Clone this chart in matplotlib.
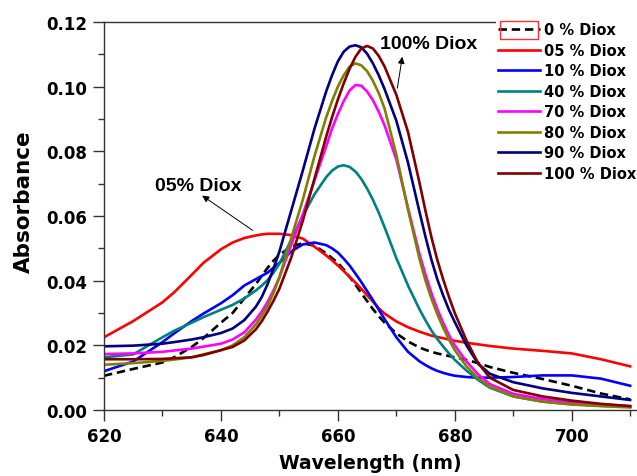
import matplotlib
matplotlib.use("Agg")
import matplotlib.pyplot as plt
from matplotlib.ticker import MultipleLocator, FormatStrFormatter
from matplotlib.patches import Rectangle

plt.rcParams['font.family'] = ['DejaVu Sans']
plt.rcParams['font.weight'] = 'bold'

wavelength = [620, 625, 630, 632, 635, 637, 640, 642, 644, 646, 647, 648, 649, 650, 652, 654,
              656, 658, 659, 660, 661, 662, 663, 664, 665, 666, 667, 668, 670, 672, 674, 675,
              676, 677, 678, 679, 680, 682, 684, 686, 690, 695, 700, 705, 710]

diox_0 = [.0106, .0127, .0147, .0163, .0195, .0222, .0270, .0300, .0345, .0390, .0415, .0440,
          .0462, .0480, .0505, .0516, .0508, .0485, .0470, .0455, .0435, .0412, .0388, .0362,
          .0337, .0312, .0290, .0270, .0237, .0212, .0193, .0186, .0180, .0175, .0171, .0167,
          .0163, .0155, .0145, .0133, .0115, .0096, .0075, .0051, .0033]
diox_05 = [.0225, .0275, .0333, .0364, .0418, .0455, .0497, .0518, .0532, .0540, .0543, .0545,
           .0545, .0545, .0541, .0530, .0505, .0478, .0463, .0447, .0430, .0412, .0394, .0375,
           .0355, .0335, .0315, .0298, .0274, .0256, .0242, .0236, .0230, .0226, .0222, .0218,
           .0214, .0208, .0203, .0198, .0190, .0183, .0175, .0157, .0135]
diox_10 = [.0120, .0150, .0210, .0237, .0275, .0298, .0330, .0355, .0385, .0405, .0415, .0425,
           .0440, .0455, .0490, .0512, .0518, .0510, .0500, .0487, .0468, .0447, .0422, .0396,
           .0368, .0340, .0310, .0281, .0225, .0180, .0150, .0139, .0129, .0121, .0115, .0110,
           .0106, .0102, .0100, .0100, .0102, .0107, .0107, .0097, .0075]
diox_40 = [.0163, .0172, .0225, .0245, .0270, .0287, .0310, .0325, .0345, .0370, .0385, .0402,
           .0425, .0452, .0525, .0600, .0667, .0720, .0740, .0753, .0757, .0752, .0738, .0715,
           .0685, .0650, .0610, .0565, .0470, .0385, .0310, .0277, .0246, .0220, .0197, .0175,
           .0155, .0122, .0093, .0069, .0042, .0026, .0018, .0013, .0010]
diox_70 = [.0173, .0175, .0180, .0184, .0190, .0196, .0205, .0218, .0240, .0280, .0305, .0335,
           .0370, .0410, .0510, .0605, .0710, .0815, .0870, .0915, .0955, .0988, .1005, .1003,
           .0985, .0958, .0922, .0880, .0775, .0625, .0480, .0418, .0362, .0313, .0270, .0232,
           .0200, .0150, .0110, .0080, .0050, .0034, .0024, .0017, .0012]
diox_80 = [.0140, .0145, .0152, .0156, .0163, .0172, .0185, .0200, .0225, .0265, .0292, .0322,
           .0362, .0410, .0530, .0650, .0785, .0905, .0955, .1000, .1035, .1062, .1072, .1066,
           .1048, .1018, .0980, .0932, .0790, .0620, .0465, .0400, .0345, .0297, .0255, .0218,
           .0185, .0135, .0098, .0072, .0042, .0026, .0017, .0012, .0008]
diox_90 = [.0197, .0199, .0205, .0210, .0218, .0225, .0238, .0252, .0278, .0320, .0350, .0390,
           .0438, .0490, .0615, .0740, .0870, .0985, .1035, .1078, .1108, .1124, .1128, .1122,
           .1102, .1072, .1035, .0992, .0895, .0765, .0610, .0535, .0465, .0405, .0355, .0310,
           .0272, .0200, .0143, .0112, .0086, .0067, .0053, .0042, .0031]
diox_100 = [.0157, .0157, .0158, .0160, .0163, .0170, .0185, .0195, .0215, .0250, .0275, .0305,
            .0338, .0375, .0470, .0585, .0715, .0845, .0905, .0960, .1010, .1055, .1092, .1118,
            .1126, .1118, .1095, .1062, .0975, .0860, .0700, .0615, .0535, .0465, .0405, .0350,
            .0300, .0215, .0145, .0100, .0062, .0042, .0029, .0019, .0012]

labels = ['0 % Diox', '05 % Diox', '10 % Diox', '40 % Diox', '70 % Diox', '80 % Diox',
          '90 % Diox', '100 % Diox']
series = [diox_0, diox_05, diox_10, diox_40, diox_70, diox_80, diox_90, diox_100]
colors = ['black', '#FF0000', '#0000FF', '#008080', '#FF00FF', '#808000', '#000080', '#800000']

fig = plt.figure(figsize=(6.37, 4.77), dpi=100)
W, H = 637, 477
ax = fig.add_axes([104 / W, 1 - 411 / H, (636 - 104) / W, (411 - 23) / H])

lines = []
for s, c, lab in zip(series, colors, labels):
    if c == 'black':
        ln, = ax.plot(wavelength, s, color=c, lw=1.9, ls=(0, (3.2, 1.8)), label=lab,
                      solid_joinstyle='round')
    else:
        ln, = ax.plot(wavelength, s, color=c, lw=1.9, label=lab, solid_joinstyle='round')
    lines.append(ln)

ax.set_xlim(620, 711)
ax.set_ylim(0, 0.12)
ax.xaxis.set_major_locator(MultipleLocator(20))
ax.xaxis.set_minor_locator(MultipleLocator(10))
ax.yaxis.set_major_locator(MultipleLocator(0.02))
ax.yaxis.set_minor_locator(MultipleLocator(0.01))
ax.yaxis.set_major_formatter(FormatStrFormatter('%.2f'))
ax.tick_params(which='major', direction='out', length=8, width=1, color='#333333',
               labelsize=12, pad=4)
ax.tick_params(which='minor', direction='out', length=4, width=1, color='#333333')
for lbl in ax.get_xticklabels() + ax.get_yticklabels():
    lbl.set_fontweight('bold')
for sp in ['left', 'bottom', 'top']:
    ax.spines[sp].set_color('#333333')
    ax.spines[sp].set_linewidth(1)
ax.spines['right'].set_visible(False)

ax.set_xlabel('Wavelength (nm)', fontsize=13.5, fontweight='bold', labelpad=6)
ax.set_ylabel('Absorbance', fontsize=15.5, fontweight='bold')
ax.yaxis.set_label_coords(-0.131, 0.54)

# annotations
ax.text(636.1, 0.0694, '05% Diox', family=['Liberation Sans', 'DejaVu Sans'], fontsize=14,
        fontweight='bold', ha='center', va='center')
ax.annotate('', xy=(636.4, 0.0668), xytext=(645.8, 0.0551),
            arrowprops=dict(arrowstyle='-|>', color='black', lw=0.7, mutation_scale=10))
ax.text(675.5, 0.1132, '100% Diox', family=['Liberation Sans', 'DejaVu Sans'], fontsize=14,
        fontweight='bold', ha='center', va='center')
ax.annotate('', xy=(671.1, 0.1101), xytext=(670.1, 0.0987),
            arrowprops=dict(arrowstyle='-|>', color='black', lw=0.7, mutation_scale=10))

leg = fig.legend(handles=lines, loc='upper left', bbox_to_anchor=(496 / W, 1 - 21 / H),
                 fontsize=10.5, frameon=True, edgecolor='none', facecolor='white',
                 framealpha=1, fancybox=False, handlelength=2.9, handletextpad=0.25,
                 labelspacing=0.38, borderpad=0.15, borderaxespad=0)
for t in leg.get_texts():
    t.set_fontweight('bold')
fig.add_artist(Rectangle((500 / W, 1 - 40 / H), 38 / W, 18 / H, transform=fig.transFigure,
                         fill=False, edgecolor='#FF3030', lw=1, zorder=10))

fig.savefig('out.png', dpi=100)
